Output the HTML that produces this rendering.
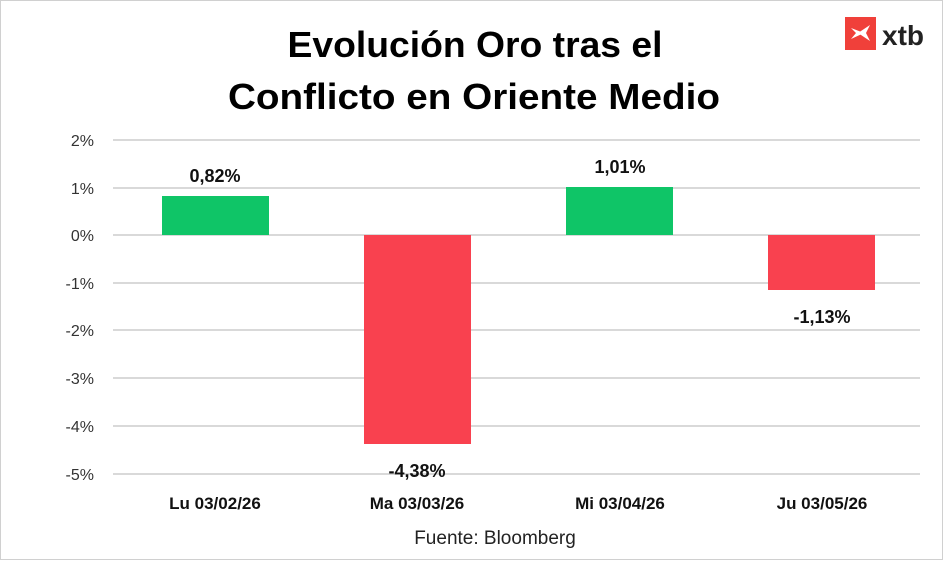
<!DOCTYPE html>
<html><head><meta charset="utf-8"><style>
body{margin:0;width:943px;height:560px;background:#fff;overflow:hidden;font-family:"Liberation Sans",sans-serif}
</style></head><body>
<svg width="943" height="560" xmlns="http://www.w3.org/2000/svg" font-family="Liberation Sans, sans-serif">
<rect x="0.5" y="0.5" width="942" height="559" fill="#fff" stroke="#d0d0d0"/>
<text x="475" y="57" text-anchor="middle" font-size="36" font-weight="bold" fill="#000" textLength="375" lengthAdjust="spacingAndGlyphs">Evolución Oro tras el</text>
<text x="474" y="109" text-anchor="middle" font-size="36" font-weight="bold" fill="#000" textLength="492" lengthAdjust="spacingAndGlyphs">Conflicto en Oriente Medio</text>
<rect x="845" y="17" width="31" height="33" fill="#f0403a"/>
<path d="M851 28 L864 33 L851 39 L856 33 Z M858 33 L870 25 L866 33 L870 41 Z" fill="#fff"/>
<text x="882" y="45" font-size="28" font-weight="bold" fill="#222">xtb</text>
<g stroke="#d9d9d9" stroke-width="2">
<line x1="113" y1="140" x2="920" y2="140"/><line x1="113" y1="188" x2="920" y2="188"/>
<line x1="113" y1="235" x2="920" y2="235"/><line x1="113" y1="283" x2="920" y2="283"/>
<line x1="113" y1="330" x2="920" y2="330"/><line x1="113" y1="378" x2="920" y2="378"/>
<line x1="113" y1="426" x2="920" y2="426"/><line x1="113" y1="474" x2="920" y2="474"/>
</g>
<g font-size="16" fill="#333" text-anchor="end">
<text x="94" y="146">2%</text><text x="94" y="194">1%</text><text x="94" y="241">0%</text>
<text x="94" y="289">-1%</text><text x="94" y="336">-2%</text><text x="94" y="384">-3%</text>
<text x="94" y="432">-4%</text><text x="94" y="480">-5%</text>
</g>
<rect x="162" y="196" width="107" height="39" fill="#0fc567"/>
<rect x="364" y="235" width="107" height="209" fill="#f9414f"/>
<rect x="566" y="187" width="107" height="48" fill="#0fc567"/>
<rect x="768" y="235" width="107" height="55" fill="#f9414f"/>
<g font-size="18" font-weight="bold" fill="#111" text-anchor="middle">
<text x="215" y="182">0,82%</text><text x="417" y="477">-4,38%</text>
<text x="620" y="173">1,01%</text><text x="822" y="323">-1,13%</text>
</g>
<g font-size="17" font-weight="bold" fill="#111" text-anchor="middle">
<text x="215" y="509">Lu 03/02/26</text><text x="417" y="509">Ma 03/03/26</text>
<text x="620" y="509">Mi 03/04/26</text><text x="822" y="509">Ju 03/05/26</text>
</g>
<text x="495" y="544" text-anchor="middle" font-size="19" fill="#222">Fuente: Bloomberg</text>
</svg>
</body></html>
